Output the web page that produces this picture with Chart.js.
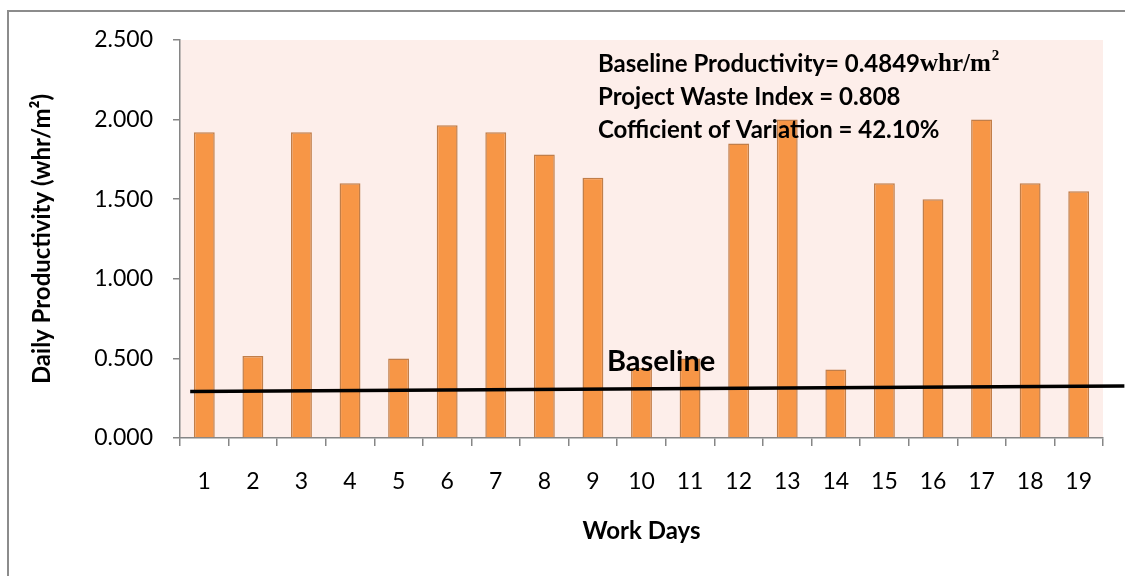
<!DOCTYPE html>
<html>
<head>
<meta charset="utf-8">
<script src="https://cdn.jsdelivr.net/npm/chart.js@4/dist/chart.umd.min.js"></script>
<style>
  html, body { margin: 0; padding: 0; background: #ffffff; }
  #wrap { width: 1125px; height: 576px; }
</style>
</head>
<body>
<div id="wrap"><canvas id="myChart" width="1125" height="576"></canvas></div>
<script>
// Work days on the x axis
const workDays = ["1", "2", "3", "4", "5", "6", "7", "8", "9", "10",
  "11", "12", "13", "14", "15", "16", "17", "18", "19"];

// Daily productivity (whr/m2)
const dailyProductivity = [1.92, 0.515, 1.92, 1.60, 0.50, 1.965, 1.92, 1.78, 1.635, 0.44,
  0.50, 1.85, 2.00, 0.43, 1.60, 1.50, 2.00, 1.60, 1.55];

// Baseline line end points (x in category index units, y in whr/m2)
const baselineX = [-0.29, 18.94];
const baselineY = [0.292, 0.327];

// Y axis ticks
const yTicks = [0, 0.5, 1.0, 1.5, 2.0, 2.5];

const axisColor = "#868686";

// plot area background + outer border
const backgroundPlugin = {
  id: "plotBackground",
  beforeDraw(chart) {
    const { ctx, chartArea } = chart;
    ctx.save();
    ctx.fillStyle = "#FDEEEA";
    ctx.fillRect(chartArea.left, chartArea.top,
      chartArea.right - chartArea.left, chartArea.bottom - chartArea.top);
    // chart frame (only top and left edges are in the picture)
    ctx.strokeStyle = "#8C8C8C";
    ctx.lineWidth = 2;
    ctx.beginPath();
    ctx.moveTo(8, chart.height + 5);
    ctx.lineTo(8, 11);
    ctx.lineTo(chart.width + 5, 11);
    ctx.stroke();
    ctx.restore();
  },
};

// baseline drawn through the chart's scales, runs past the plot area
const baselinePlugin = {
  id: "baseline",
  afterDatasetsDraw(chart) {
    const { ctx, scales } = chart;
    ctx.save();
    ctx.strokeStyle = "#000000";
    ctx.lineWidth = 3.5;
    ctx.beginPath();
    baselineX.forEach((v, i) => {
      const px = scales.x.getPixelForValue(v);
      const py = scales.y.getPixelForValue(baselineY[i]);
      if (i === 0) ctx.moveTo(px, py);
      else ctx.lineTo(px, py);
    });
    ctx.stroke();
    ctx.restore();
  },
};

// text boxes drawn over the chart
const notesPlugin = {
  id: "notes",
  afterDatasetsDraw(chart) {
    const { ctx } = chart;
    ctx.save();
    ctx.fillStyle = "#000000";
    ctx.textBaseline = "middle";
    ctx.textAlign = "left";
    const sans = "bold 24px Lato";
    ctx.font = sans;
    const first = "Baseline Productivity= 0.4849";
    ctx.fillText(first, 598, 64);
    let x = 598 + ctx.measureText(first).width;
    ctx.font = "bold 25px 'Liberation Serif'";
    ctx.fillText("whr/m", x, 65);
    x += ctx.measureText("whr/m").width;
    ctx.font = "bold 15px 'Liberation Serif'";
    ctx.fillText("2", x + 1, 56);
    ctx.font = sans;
    ctx.fillText("Project Waste Index = 0.808", 598, 97);
    ctx.fillText("Cofficient of Variation = 42.10%", 598, 130);
    ctx.font = "bold 29px Lato";
    ctx.fillText("Baseline", 607, 362);
    ctx.restore();
  },
};

const ctx = document.getElementById("myChart").getContext("2d");
const myChart = new Chart(ctx, {
  type: "bar",
  data: {
    labels: workDays,
    datasets: [
      {
        label: "Daily Productivity",
        data: dailyProductivity,
        backgroundColor: "#F79646",
        borderColor: "rgba(182, 106, 45, 0.85)",
        borderWidth: 1.5,
        barPercentage: 0.43,
        categoryPercentage: 1.0,
      },
    ],
  },
  options: {
    responsive: false,
    animation: false,
    layout: { padding: { top: 40, right: 22, bottom: 0, left: 0 } },
    plugins: {
      legend: { display: false },
      tooltip: { enabled: false },
    },
    scales: {
      x: {
        grid: {
          offset: true,
          drawOnChartArea: false,
          tickLength: 8,
          color: axisColor,
          lineWidth: 1.5,
        },
        border: { color: axisColor, width: 1.5 },
        ticks: {
          color: "#000000",
          font: { family: "Lato", size: 23 },
          padding: 22,
          maxRotation: 0,
        },
        title: {
          display: true,
          text: "Work Days",
          color: "#000000",
          font: { family: "Lato", size: 24, weight: "bold" },
          padding: { top: 0, bottom: 30 },
        },
        afterFit(scale) { scale.height = 138; },
      },
      y: {
        min: 0,
        max: 2.5,
        afterBuildTicks(scale) { scale.ticks = yTicks.map((v) => ({ value: v })); },
        grid: {
          drawOnChartArea: false,
          tickLength: 7,
          color: axisColor,
          lineWidth: 1.5,
        },
        border: { color: axisColor, width: 1.5 },
        ticks: {
          color: "#000000",
          font: { family: "Lato", size: 23 },
          padding: 20,
          callback: (value) => Number(value).toFixed(3),
        },
        title: {
          display: true,
          text: "Daily Productivity (whr/m²)",
          color: "#000000",
          font: { family: "Lato", size: 24, weight: "bold" },
          padding: { top: 28, bottom: 0 },
        },
        afterFit(scale) { scale.width = 180; },
      },
    },
  },
  plugins: [backgroundPlugin, baselinePlugin, notesPlugin],
});
</script>
</body>
</html>
